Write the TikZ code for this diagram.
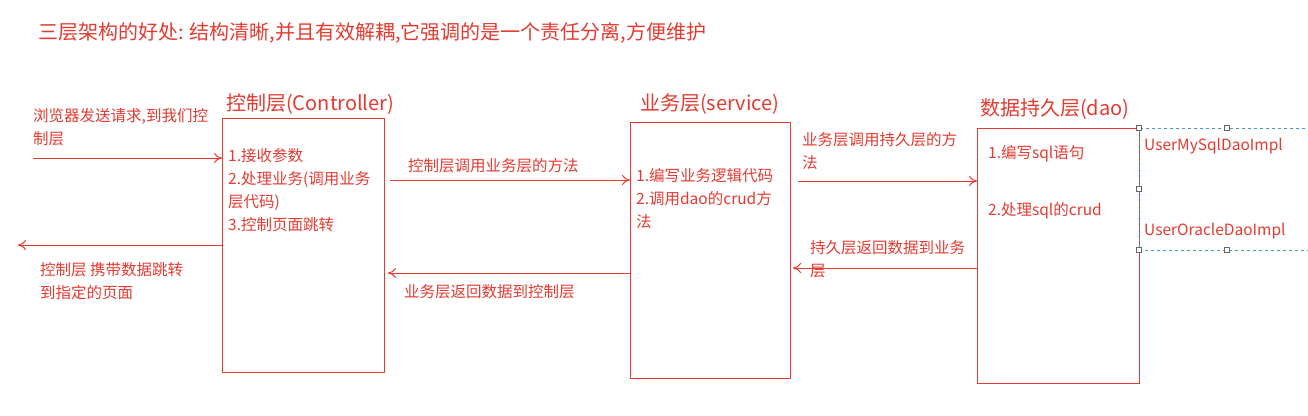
\documentclass[tikz,border=0pt]{standalone}
\usepackage{fontspec}
\setmainfont{Noto Sans CJK SC}
\usetikzlibrary{arrows.meta}
\definecolor{rd}{RGB}{228,58,48}
\definecolor{bl}{RGB}{70,150,215}
\begin{document}
\begin{tikzpicture}[x=1pt,y=-1pt,
  box/.style={draw=rd,line width=1.2pt},
  arr/.style={draw=rd,line width=1pt,-{To[length=8pt,width=10pt]}},
  txt/.style={text=rd,font=\fontsize{15.5}{23}\selectfont,anchor=north west,inner sep=0pt,align=left},
  ttl/.style={text=rd,font=\fontsize{20}{22}\selectfont,anchor=west,inner sep=0pt}]
\useasboundingbox (0,0) rectangle (1308,415);
\node[ttl] (title) at (38,33) {三层架构的好处: 结构清晰,并且有效解耦,它强调的是一个责任分离,方便维护};
\node[box,minimum width=162pt,minimum height=254pt,anchor=north west] (c) at (222,118) {};
\node[box,minimum width=160pt,minimum height=256pt,anchor=north west] (s) at (630,122) {};
\node[box,minimum width=162pt,minimum height=255pt,anchor=north west] (d) at (977,128) {};
\node[draw=bl,dashed,line width=0.8pt,minimum width=169pt,minimum height=122pt,anchor=north west] (impl) at (1139,128) {};
\foreach \p in {(1139,128),(1227,128),(1139,189),(1139,250),(1227,250)}
  \node[draw=black!60,fill=white,minimum size=5pt,inner sep=0pt] at \p {};
\node[ttl] (ct) at (226,104) {控制层(Controller)};
\node[ttl] (st) at (640,104) {业务层(service)};
\node[ttl] (dt) at (980,109) {数据持久层(dao)};
\node[txt] (c1) at (228,148) {1.接收参数\\2.处理业务(调用业务\\层代码)\\3.控制页面跳转};
\node[txt] (s1) at (636,168) {1.编写业务逻辑代码\\2.调用dao的crud方\\法};
\node[txt] (d1) at (988,145) {1.编写sql语句};
\node[txt] (d2) at (988,202) {2.处理sql的crud};
\node[txt] (u1) at (1144,138) {UserMySqlDaoImpl};
\node[txt] (u2) at (1144,223) {UserOracleDaoImpl};
\node[txt] (in) at (33,108) {浏览器发送请求,到我们控\\制层};
\node[txt] (out) at (40,262) {控制层 携带数据跳转\\到指定的页面};
\node[txt] (l1) at (408,158) {控制层调用业务层的方法};
\node[txt] (l2) at (404,284) {业务层返回数据到控制层};
\node[txt] (l3) at (802,132) {业务层调用持久层的方\\法};
\node[txt] (l4) at (810,240) {持久层返回数据到业务\\层};
\coordinate (inS) at (33,158);
\coordinate (outE) at (18,245);
\draw[arr] (inS) -- (c.west |- inS);
\draw[arr] (c.west |- outE) -- (outE);
\draw[arr] (390,180) -- (s.west |- 0,180);
\draw[arr] (s.west |- 0,273) -- (388,273);
\draw[arr] (798,181) -- (d.west |- 0,181);
\draw[arr] (d.west |- 0,268) -- (793,268);
\end{tikzpicture}
\end{document}
